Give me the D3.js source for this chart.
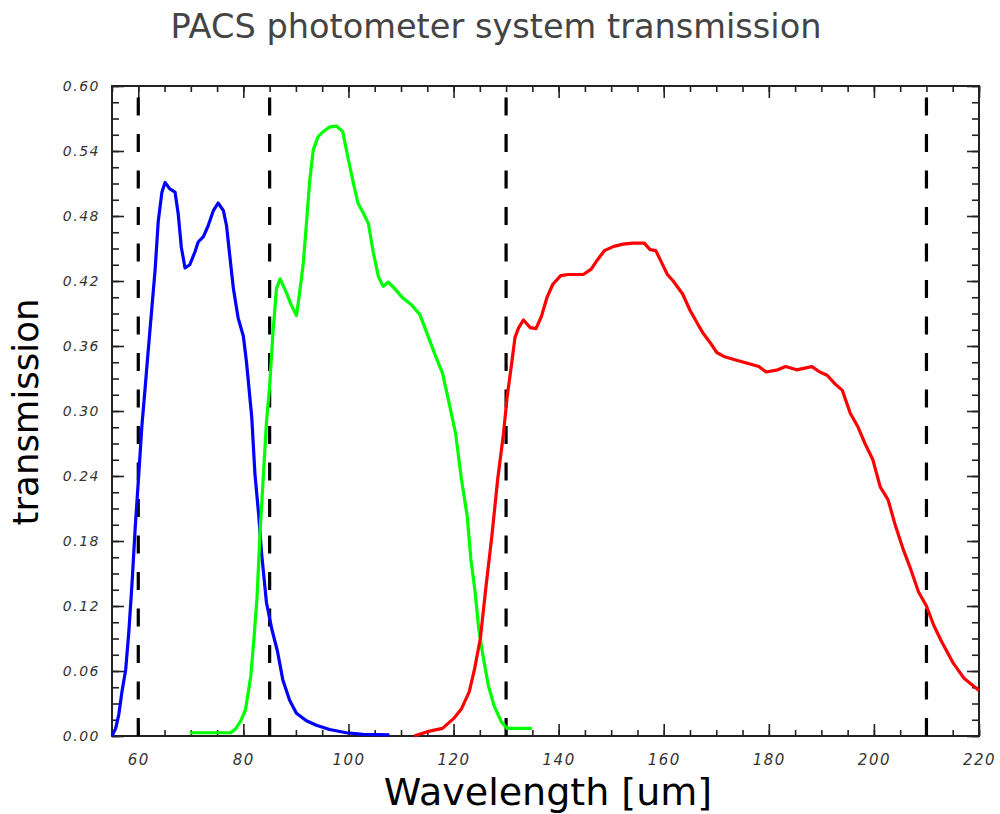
<!DOCTYPE html>
<html>
<head>
<meta charset="utf-8">
<script src="https://cdn.jsdelivr.net/npm/d3@7"></script>
<style>
  html, body { margin: 0; padding: 0; background: #fff; }
  svg { display: block; }
  .tick text { font-family: "DejaVu Sans", sans-serif; font-style: italic; fill: #333; letter-spacing: 1.5px; }
</style>
</head>
<body>
<svg id="chart" width="1000" height="814"></svg>
<script>
// ---- data ----
const title = "PACS photometer system transmission";
const xLabel = "Wavelength [um]";
const yLabel = "transmission";

const xTicks = [60, 80, 100, 120, 140, 160, 180, 200, 220];
const yTicks = [0, 0.06, 0.12, 0.18, 0.24, 0.30, 0.36, 0.42, 0.48, 0.54, 0.60];
const bandEdges = [60, 85, 130, 210];

const blueWave = [55, 55.7, 56.3, 56.9, 57.6, 58.2, 58.8, 59.4, 60.1, 60.7, 61.3, 62.0, 62.6, 63.2, 63.8, 64.5, 65.1, 66.0, 67.0, 67.6, 68.2, 68.9, 69.8, 70.8, 71.4, 72.4, 73.3, 74.3, 75.2, 76.2, 76.8, 77.4, 78.1, 79.0, 80.0, 80.6, 81.6, 82.2, 82.9, 83.5, 84.4, 85.4, 86.5, 87.5, 88.8, 90.1, 92.0, 93.9, 96.4, 99.6, 102.8, 107.8];
const blueTrans = [0, .007, .02, .041, .061, .096, .14, .191, .242, .287, .321, .362, .396, .43, .475, .502, .511, .505, .502, .482, .451, .432, .435, .447, .456, .461, .471, .485, .492, .485, .471, .444, .413, .386, .369, .345, .294, .242, .205, .167, .123, .099, .078, .052, .033, .021, .014, .010, .006, .003, .0015, .001];

const greenWave = [69.8, 77.6, 78.6, 79.5, 80.4, 81.4, 82.0, 82.6, 83.2, 83.8, 84.4, 85.0, 85.6, 86.3, 87.0, 88.2, 89.1, 90.1, 90.7, 91.4, 92.0, 92.6, 93.3, 94.2, 95.2, 96.4, 97.7, 98.9, 99.9, 100.9, 101.8, 102.8, 103.8, 104.7, 105.7, 106.6, 107.6, 108.8, 110.4, 112.0, 113.6, 115.0, 116.4, 117.9, 119.3, 120.4, 121.5, 122.6, 123.3, 124.1, 124.8, 125.5, 126.6, 127.7, 129.1, 130.2, 134.9];
const greenTrans = [.003, .003, .007, .014, .024, .055, .089, .128, .19, .24, .29, .323, .37, .413, .422, .409, .398, .388, .409, .436, .473, .511, .541, .553, .558, .562, .563, .558, .534, .511, .492, .483, .473, .447, .424, .415, .419, .413, .404, .398, .389, .371, .353, .335, .304, .279, .237, .203, .163, .133, .099, .077, .047, .028, .013, .007, .007];

const redWave = [112.5, 115.0, 117.9, 120.0, 121.5, 123.0, 124.0, 125.1, 126.2, 127.3, 128.4, 129.5, 130.2, 130.9, 131.7, 132.4, 133.3, 134.6, 135.7, 136.7, 137.8, 138.9, 140.4, 141.8, 143.3, 144.7, 146.2, 147.3, 148.7, 150.5, 152.3, 154.1, 156.3, 157.4, 158.5, 159.6, 160.7, 161.8, 163.6, 165.0, 166.5, 167.6, 169.0, 170.1, 171.6, 173.7, 175.9, 178.1, 179.5, 181.7, 183.2, 185.3, 188.2, 189.7, 191.1, 192.6, 194.0, 195.5, 196.9, 198.3, 199.8, 201.2, 202.7, 204.1, 205.6, 207.0, 208.5, 210.0, 211.4, 212.9, 215.0, 217.2, 220.0];
const redTrans = [0, .004, .007, .016, .025, .041, .062, .09, .139, .185, .237, .279, .313, .338, .368, .377, .384, .377, .376, .387, .405, .417, .425, .426, .426, .426, .431, .439, .448, .452, .454, .455, .455, .449, .448, .437, .426, .42, .408, .393, .38, .371, .362, .354, .35, .347, .344, .341, .336, .338, .341, .338, .341, .336, .333, .325, .319, .298, .286, .270, .255, .23, .218, .194, .172, .154, .133, .12, .102, .087, .068, .053, .042];

const seriesColors = ["#0000ff", "#00ff00", "#ff0000"];

// ---- layout ----
const svg = d3.select("#chart");
const M = { left: 112, right: 979, top: 86, bottom: 736 };
const x = d3.scaleLinear().domain([55, 220]).range([M.left, M.right]);
const y = d3.scaleLinear().domain([0, 0.6]).range([M.bottom, M.top]);

const xMinor = d3.range(55, 221, 5);
const yMinor = d3.range(0, 41).map(i => i * 0.015);

// minor + major ticks on all four sides (inward)
function drawAxis(gen, transform, values, size, labels, pad) {
  const g = svg.append("g").attr("transform", transform)
    .call(gen.tickValues(values).tickSize(size).tickPadding(pad)
      .tickFormat(labels ? labels : () => ""));
  g.select(".domain").remove();
  g.selectAll(".tick line").attr("stroke", "#222").attr("stroke-width", 1.6);
  return g;
}
drawAxis(d3.axisBottom(x), `translate(0,${M.bottom})`, xMinor, -6, null, 0);
const xg = drawAxis(d3.axisBottom(x), `translate(0,${M.bottom})`, xTicks, -12, d3.format("d"), 18);
xg.selectAll("text").attr("font-size", 15);
drawAxis(d3.axisTop(x), `translate(0,${M.top})`, xMinor, -6, null, 0);
drawAxis(d3.axisTop(x), `translate(0,${M.top})`, xTicks, -12, null, 0);

drawAxis(d3.axisLeft(y), `translate(${M.left},0)`, yMinor, -7, null, 0);
const yg = drawAxis(d3.axisLeft(y), `translate(${M.left},0)`, yTicks, -12, d3.format(".2f"), 12);
yg.selectAll("text").attr("font-size", 14);
drawAxis(d3.axisRight(y), `translate(${M.right},0)`, yMinor, -7, null, 0);
drawAxis(d3.axisRight(y), `translate(${M.right},0)`, yTicks, -12, null, 0);

// frame
svg.append("rect")
  .attr("x", M.left).attr("y", M.top)
  .attr("width", M.right - M.left).attr("height", M.bottom - M.top)
  .attr("fill", "none").attr("stroke", "#222").attr("stroke-width", 2);

// band edge dashed lines
svg.append("g").selectAll("line").data(bandEdges).join("line")
  .attr("x1", d => x(d)).attr("x2", d => x(d))
  .attr("y1", y(0)).attr("y2", y(0.6))
  .attr("stroke", "#000").attr("stroke-width", 3.2)
  .attr("stroke-dasharray", "18 18.5");

// curves
const series = [
  { wave: blueWave, trans: blueTrans },
  { wave: greenWave, trans: greenTrans },
  { wave: redWave, trans: redTrans }
];
const line = d3.line().x(d => x(d[0])).y(d => y(d[1]));
series.forEach((s, i) => {
  svg.append("path")
    .datum(s.wave.map((w, j) => [w, s.trans[j]]))
    .attr("d", line)
    .attr("fill", "none")
    .attr("stroke", seriesColors[i])
    .attr("stroke-width", 3.2)
    .attr("stroke-linejoin", "round");
});

// texts
svg.append("text").text(title)
  .attr("x", 496).attr("y", 38).attr("text-anchor", "middle")
  .attr("font-family", "'DejaVu Sans', sans-serif").attr("font-size", 33.6)
  .attr("fill", "#444");
svg.append("text").text(xLabel)
  .attr("x", 548).attr("y", 805).attr("text-anchor", "middle")
  .attr("font-family", "'DejaVu Sans', sans-serif").attr("font-size", 38)
  .attr("fill", "#000");
svg.append("text").text(yLabel)
  .attr("transform", "translate(38,412) rotate(-90)").attr("text-anchor", "middle")
  .attr("font-family", "'DejaVu Sans', sans-serif").attr("font-size", 35.5)
  .attr("fill", "#000");
</script>
</body>
</html>
